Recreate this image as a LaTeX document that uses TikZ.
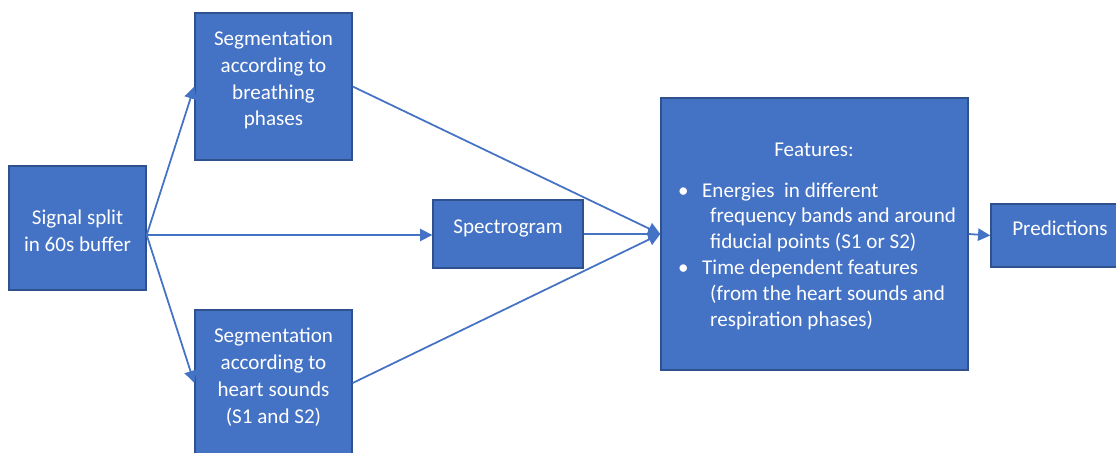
\documentclass[tikz,border=0pt]{standalone}
\usepackage{fontspec}
\setmainfont{Carlito}
\usetikzlibrary{arrows.meta}
\definecolor{boxblue}{HTML}{4472C4}
\definecolor{edgeblue}{HTML}{2F528F}
\begin{document}
\begin{tikzpicture}[x=0.02cm, y=-0.02cm,
        blk/.style={draw=edgeblue, line width=0.8pt, fill=boxblue, inner sep=0pt},
        txt/.style={text=white, align=center, font=\fontsize{12}{15.3}\selectfont},
        arr/.style={draw=boxblue, line width=1pt, -{Triangle[length=7pt, width=7pt]}}]
        \clip (0,0) rectangle (1116,453);

        % boxes
        \node[blk, minimum width=2.74cm, minimum height=2.48cm] (sig) at (77.5,228) {};
        \node[blk, minimum width=3.14cm, minimum height=2.94cm] (breath) at (273.5,86.5) {};
        \node[blk, minimum width=3.14cm, minimum height=2.92cm] (heart) at (273.5,383) {};
        \node[blk, minimum width=3cm, minimum height=1.36cm] (spec) at (508,234) {};
        \node[blk, minimum width=6.14cm, minimum height=5.44cm] (feat) at (814.5,234) {};
        \node[blk, minimum width=2.68cm, minimum height=1.26cm] (pred) at (1058,235.5) {};

        % texts
        \node[txt] at (77.5,231) {Signal split\\in 60s buffer};
        \node[txt] at (273.5,80) {Segmentation\\according to\\breathing\\phases};
        \node[txt] at (273.5,377) {Segmentation\\according to\\heart sounds\\(S1 and S2)};
        \node[txt] at (508,228) {Spectrogram};
        \node[txt] at (1060,228) {Predictions};
        \node[txt] at (814,150) {Features:};
        \node[txt, align=left, anchor=west,
            font=\fontsize{12}{14.7}\selectfont] at (672,256)
            {\makebox[0.48cm][l]{\textbullet}Energies\ \ in different\\
             \hspace*{0.64cm}frequency bands and around\\
             \hspace*{0.64cm}fiducial points (S1 or S2)\\
             \makebox[0.48cm][l]{\textbullet}Time dependent features\\
             \hspace*{0.64cm}(from the heart sounds and\\
             \hspace*{0.64cm}respiration phases)};

        % connectors
        \draw[arr] ([yshift=-0.14cm]sig.east) -- (breath.west);
        \draw[arr] ([yshift=-0.14cm]sig.east) -- (heart.west);
        \draw[arr] ([yshift=-0.14cm]sig.east) -- ([yshift=-0.02cm]spec.west);
        \foreach \n in {breath, spec, heart} {
            \draw[arr] (\n.east) -- (feat.west);
        }
        \draw[arr] (feat.east) -- (pred.west);
    \end{tikzpicture}
\end{document}
